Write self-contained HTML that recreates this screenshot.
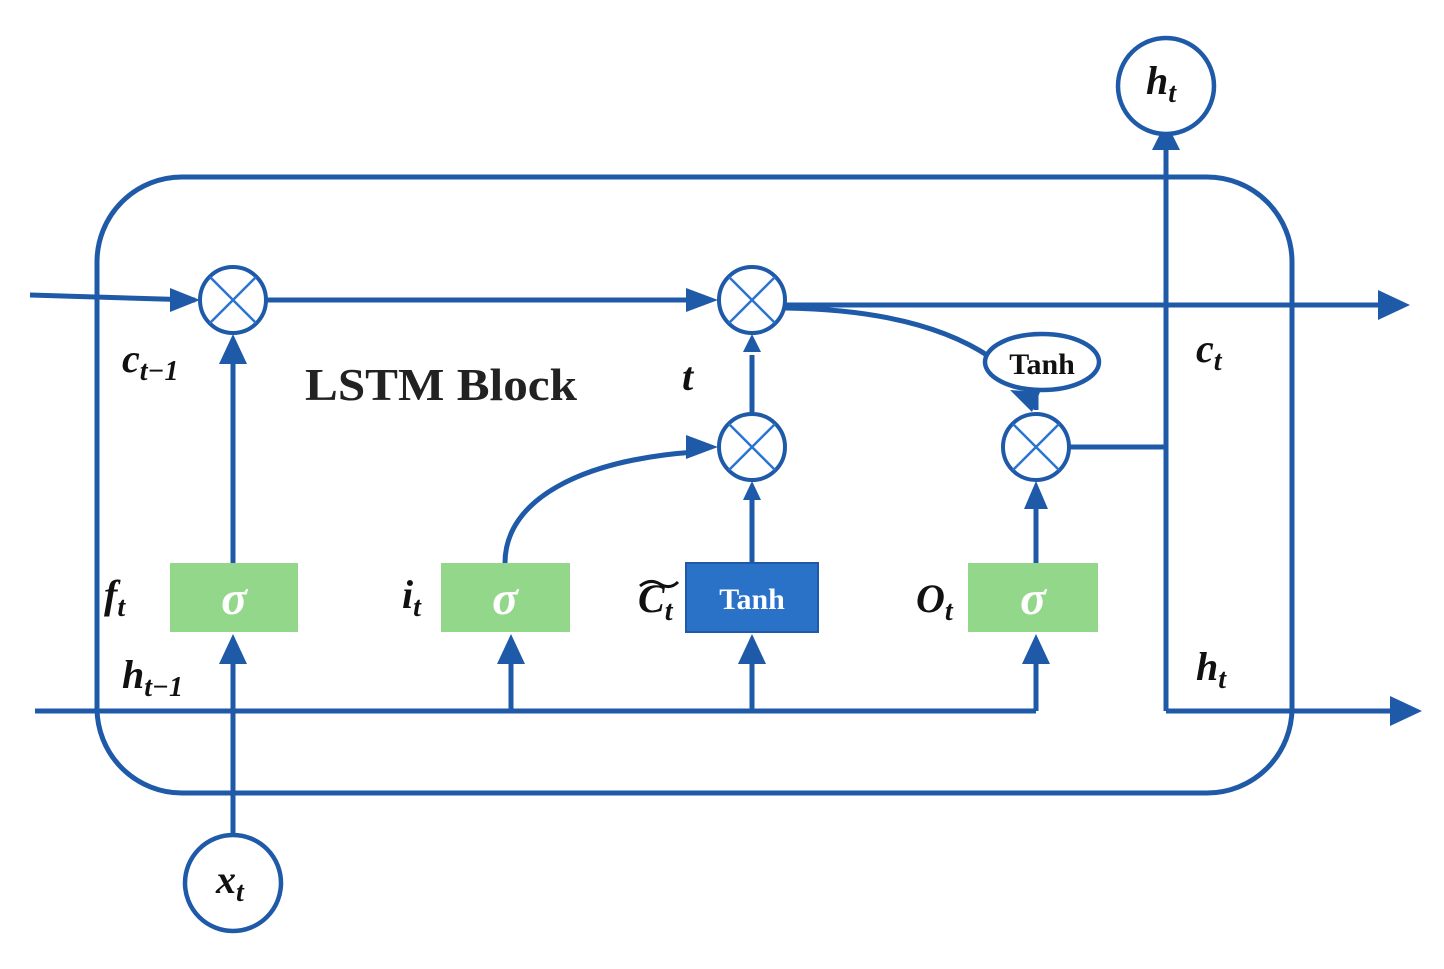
<!DOCTYPE html>
<html><head><style>html,body{margin:0;padding:0;background:#fff}</style></head><body>
<svg width="1444" height="964" viewBox="0 0 1444 964" xmlns="http://www.w3.org/2000/svg" font-family="Liberation Serif, serif">
<g stroke="#1f5aa8" stroke-width="5" fill="none">
<rect x="97" y="177" width="1195" height="616" rx="85" ry="85"/>
<line x1="30" y1="295" x2="195" y2="300"/>
<line x1="266" y1="300" x2="690" y2="300"/>
<line x1="785" y1="305" x2="1385" y2="305"/>
<path d="M785 308 Q 920 310 990 357"/>
<line x1="35" y1="711" x2="1036" y2="711"/>
<polyline points="1070,447 1166,447"/>
<line x1="1166" y1="711" x2="1166" y2="150"/>
<line x1="1166" y1="711" x2="1395" y2="711"/>
<line x1="233" y1="835" x2="233" y2="660"/>
<line x1="233" y1="563" x2="233" y2="360"/>
<line x1="511" y1="711" x2="511" y2="660"/>
<line x1="752" y1="711" x2="752" y2="660"/>
<line x1="1036" y1="711" x2="1036" y2="660"/>
<line x1="752" y1="563" x2="752" y2="500"/>
<line x1="752" y1="414" x2="752" y2="355"/>
<line x1="1036" y1="563" x2="1036" y2="505"/>
<line x1="1036" y1="390" x2="1036" y2="410"/>
<path d="M505 563 C 505 500, 580 460, 695 452"/>
</g>
<g fill="#1f5aa8">
<polygon points="170,288 200,300 170,312"/>
<polygon points="686,288 718,300 686,312"/>
<polygon points="1378,290 1410,305 1378,320"/>
<polygon points="1390,696 1422,711 1390,726"/>
<polygon points="1152,150 1166,122 1180,150"/>
<polygon points="219,364 233,334 247,364"/>
<polygon points="219,664 233,634 247,664"/>
<polygon points="497,664 511,634 525,664"/>
<polygon points="738,664 752,634 766,664"/>
<polygon points="1022,664 1036,634 1050,664"/>
<polygon points="743,500 752,481 761,500"/>
<polygon points="743,352 752,334 761,352"/>
<polygon points="1024,509 1036,481 1048,509"/>
<polygon points="686,435 718,447 686,459"/>
<polygon points="1010,390 1040,392 1032,412"/>
</g>
<g stroke="#1f5aa8" fill="#fff">
<g stroke-width="4"><circle cx="233" cy="300" r="33"/><circle cx="752" cy="300" r="33"/><circle cx="752" cy="447" r="33"/><circle cx="1036" cy="447" r="33"/></g>
<g stroke-width="2.5" stroke="#2a74d0">
<path d="M210 277 L256 323 M256 277 L210 323"/>
<path d="M729 277 L775 323 M775 277 L729 323"/>
<path d="M729 424 L775 470 M775 424 L729 470"/>
<path d="M1013 424 L1059 470 M1059 424 L1013 470"/>
</g>
<g stroke-width="4.5"><circle cx="1166" cy="86" r="48"/><circle cx="233" cy="883" r="48"/>
<ellipse cx="1042" cy="362" rx="57" ry="28"/></g>
</g>
<rect x="170" y="563" width="128" height="69" fill="#93d88a"/>
<rect x="441" y="563" width="129" height="69" fill="#93d88a"/>
<rect x="968" y="563" width="130" height="69" fill="#93d88a"/>
<rect x="686" y="563" width="132" height="69" fill="#2a72c8" stroke="#1f5aa8" stroke-width="2"/>
<g fill="#fff" font-weight="bold" font-style="italic" font-size="48" text-anchor="middle">
<text x="234" y="614">σ</text><text x="505" y="614">σ</text><text x="1033" y="614">σ</text>
</g>
<text x="752" y="609" fill="#fff" font-weight="bold" font-size="30" text-anchor="middle">Tanh</text>
<text x="1042" y="374" fill="#111" font-weight="bold" font-size="30" text-anchor="middle">Tanh</text>
<text x="305" y="400" fill="#222" font-weight="bold" font-size="46" textLength="272" lengthAdjust="spacingAndGlyphs">LSTM Block</text>
<g fill="#111" font-weight="bold" font-style="italic" font-size="40">
<text x="122" y="372">c<tspan font-size="28" dy="8">t−1</tspan></text>
<text x="682" y="390">t</text>
<text x="1196" y="362">c<tspan font-size="28" dy="8">t</tspan></text>
<text x="1196" y="680">h<tspan font-size="28" dy="8">t</tspan></text>
<text x="122" y="688">h<tspan font-size="28" dy="8">t−1</tspan></text>
<text x="104" y="608">f<tspan font-size="28" dy="8">t</tspan></text>
<text x="402" y="608">i<tspan font-size="28" dy="8">t</tspan></text>
<text x="638" y="612">C<tspan font-size="28" dy="8">t</tspan></text>
<text x="916" y="612">O<tspan font-size="28" dy="8">t</tspan></text>
<text x="1146" y="94">h<tspan font-size="28" dy="8">t</tspan></text>
<text x="216" y="893">x<tspan font-size="28" dy="8">t</tspan></text>
</g>
<path d="M640 586 Q 650 578 660 584 T 678 582" stroke="#111" stroke-width="3" fill="none"/>
</svg>
</body></html>
